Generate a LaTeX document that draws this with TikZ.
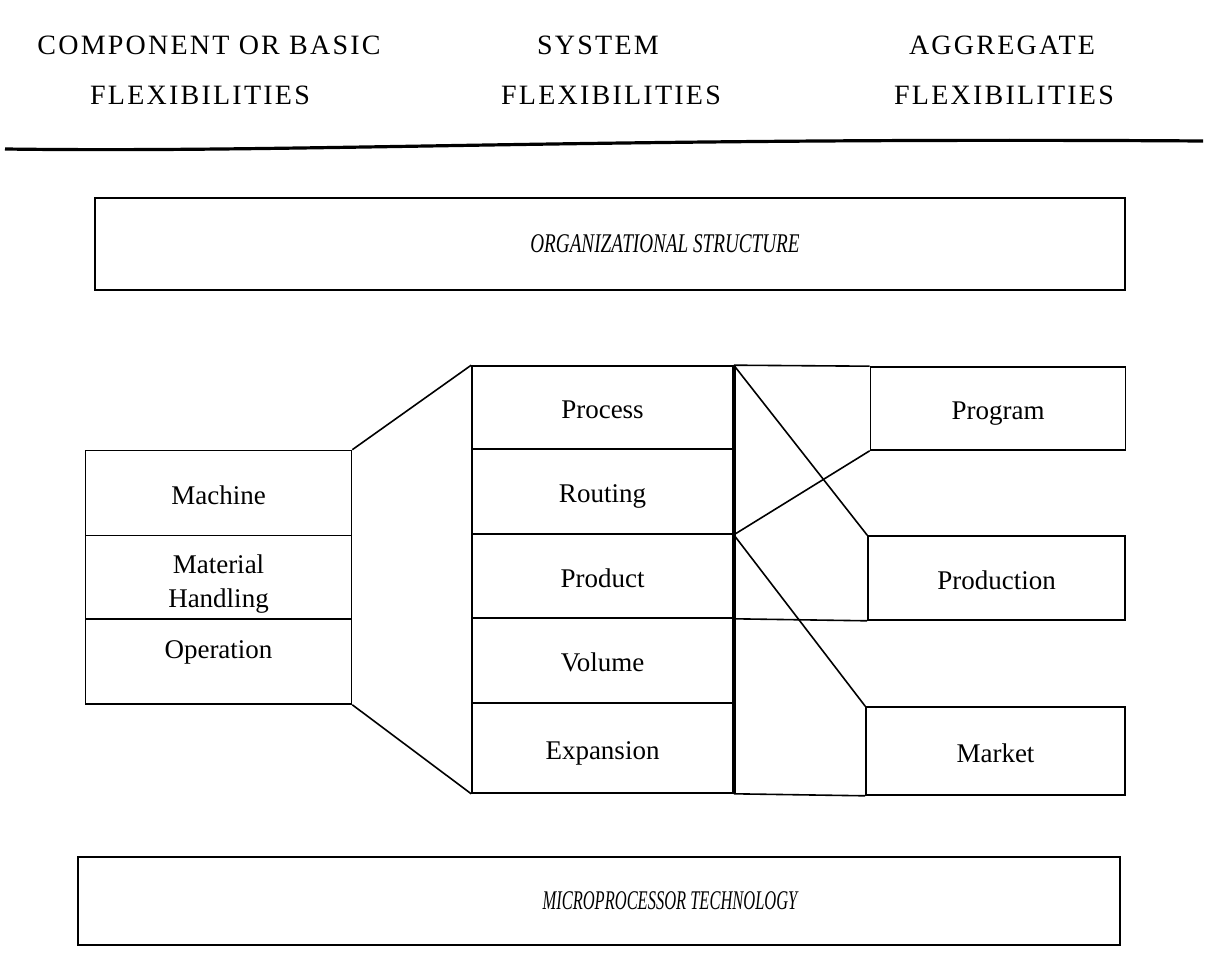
\documentclass[tikz,border=0pt]{standalone}
\usepackage{fontspec}
\setmainfont{Liberation Serif}
\usepackage{graphicx}
\begin{document}
\begin{tikzpicture}[x=0.5pt,y=-0.5pt,
  cell/.style={draw, line width=0.8pt, inner sep=0pt,
    font=\fontsize{13.5}{16}\selectfont},
  box/.style={cell, text height=11pt, text depth=0pt},
  bigbox/.style={draw, line width=0.9pt, inner sep=0pt,
    font=\fontsize{13.5}{16}\selectfont\itshape},
  head/.style={inner sep=0pt, font=\fontsize{14}{16}\selectfont\addfontfeatures{LetterSpace=8}},
  link/.style={line width=0.8pt},
  spine/.style={line width=1.9pt}]
\useasboundingbox (0,0) rectangle (1205,973);

% header
\node[head] (h1a) at (209,45) {COMPONENT OR BASIC};
\node[head] (h1b) at (200,95) {FLEXIBILITIES};
\node[head] (h2a) at (598,45) {SYSTEM};
\node[head] (h2b) at (611,95) {FLEXIBILITIES};
\node[head] (h3a) at (1002,45) {AGGREGATE};
\node[head] (h3b) at (1004,95) {FLEXIBILITIES};
\draw[line width=1.6pt] (5,149) .. controls (300,153) and (600,137) .. (1203,141);

% big boxes
\node[bigbox, minimum width=515pt, minimum height=46pt] (org) at (610,244)
  {\hspace*{55pt}\scalebox{0.71}[1]{ORGANIZATIONAL STRUCTURE}};
\node[bigbox, minimum width=521pt, minimum height=44pt] (micro) at (599,901)
  {\hspace*{71pt}\scalebox{0.61}[1]{MICROPROCESSOR TECHNOLOGY}};

% left column
\node[box, minimum width=133pt, minimum height=42.5pt] (machine) at (218.5,493) {Machine};
\node[cell, minimum width=133pt, minimum height=41.5pt] (material) at (218.5,577)
  {\raisebox{-7pt}[0pt][0pt]{\begin{tabular}{@{}c@{}}Material\\[1pt]Handling\end{tabular}}};
\node[box, minimum width=133pt, minimum height=42.5pt] (operation) at (218.5,661.5) {\raisebox{7pt}{Operation}};

% middle column
\node[box, minimum width=130.5pt, minimum height=41.5pt] (process) at (602.5,407.5) {Process};
\node[box, minimum width=130.5pt, minimum height=42.5pt] (routing) at (602.5,491.5) {Routing};
\node[box, minimum width=130.5pt, minimum height=42pt] (product) at (602.5,576) {Product};
\node[box, minimum width=130.5pt, minimum height=42.5pt] (volume) at (602.5,660.5) {Volume};
\node[box, minimum width=130.5pt, minimum height=45pt] (expansion) at (602.5,748) {Expansion};

% right column
\node[box, minimum width=127.5pt, minimum height=41.5pt] (program) at (998,408.5) {Program};
\node[box, minimum width=128.5pt, minimum height=42pt] (production) at (996.5,578) {Production};
\node[box, minimum width=129.5pt, minimum height=44pt] (market) at (995.5,751) {Market};

% connectors
\draw[link] (machine.north east) -- (process.north west);
\draw[link] (operation.south east) -- (expansion.south west);
\draw[spine] (process.north east) -- (expansion.south east);
\draw[link] (process.north east) -- (program.north west);
\draw[link] (process.north east) -- (production.north west);
\draw[link] (routing.south east) -- (program.south west);
\draw[link] (routing.south east) -- (market.north west);
\draw[link] (product.south east) -- (production.south west);
\draw[link] (expansion.south east) -- (market.south west);
\end{tikzpicture}
\end{document}
